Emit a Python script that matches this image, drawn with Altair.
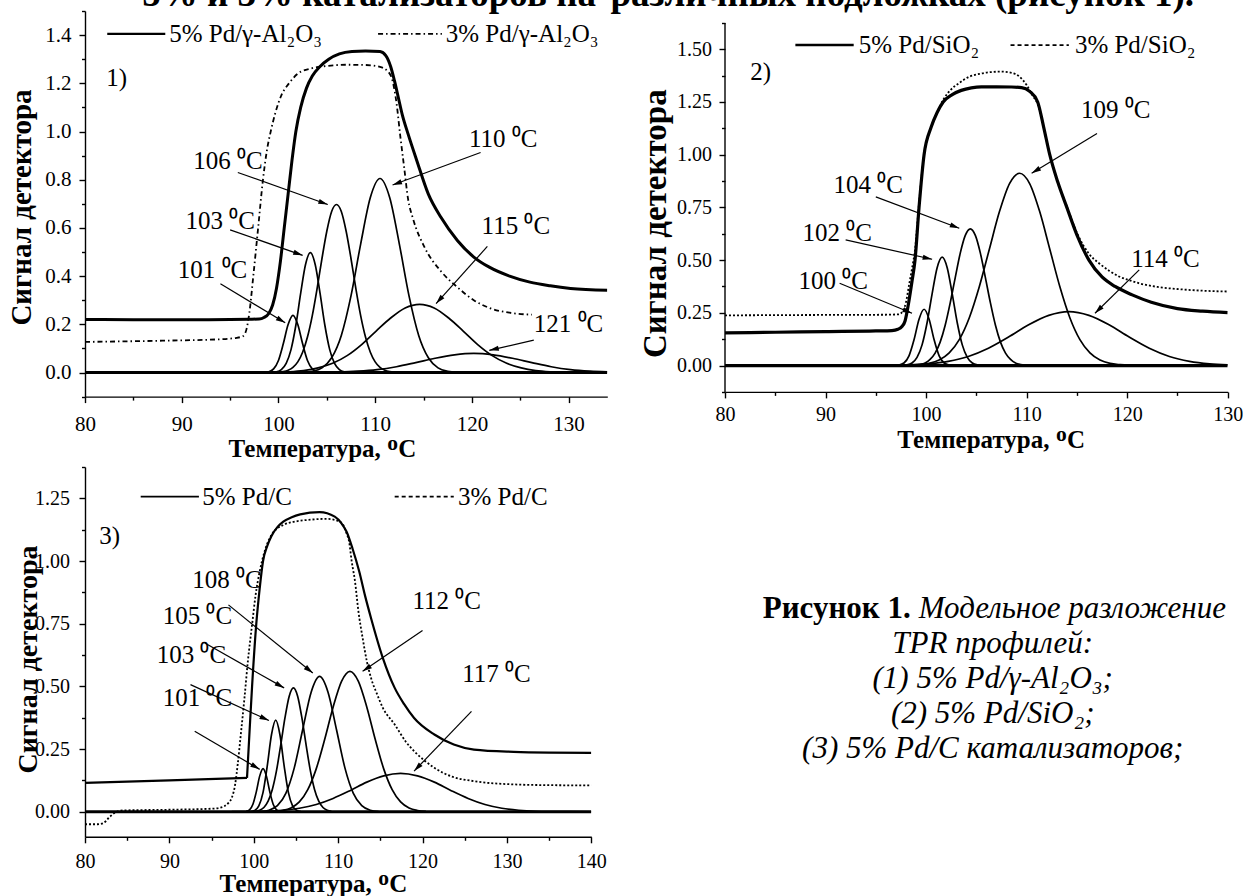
import math
import altair as alt
import pandas as pd

FONT = "Liberation Serif"
XTITLE = "Температура, ᴼC"
YTITLE = "Сигнал детектора"

# ---------------- Panel 1 : Pd / gamma-Al2O3 ----------------
P1_ENV5_T = [80, 85, 90, 95, 97, 98.0, 98.5, 99.0, 99.4, 99.8, 100.2, 100.6, 101.0, 101.4, 101.8, 102.3,
             102.9, 103.5, 104.3, 105.2, 106.3, 107.6, 109.0, 110.5, 111.1, 111.6, 112.0, 112.4, 112.8,
             113.4, 114.3, 115.5, 116.8, 118.5, 120.2, 121.8, 123.9, 126.0, 128.1, 130.2, 134.0]
P1_ENV5_V = [0.220, 0.219, 0.219, 0.220, 0.221, 0.222, 0.228, 0.245, 0.28, 0.35, 0.46, 0.60, 0.74, 0.88, 1.00,
             1.10, 1.18, 1.23, 1.27, 1.30, 1.322, 1.332, 1.334, 1.332, 1.315, 1.27, 1.21, 1.14, 1.07,
             0.99, 0.88, 0.74, 0.644, 0.548, 0.479, 0.437, 0.400, 0.375, 0.360, 0.349, 0.341]
P1_ENV3_T = [80, 88, 94, 95.5, 96.3, 96.7, 97.0, 97.4, 97.9, 98.4, 98.8, 99.2, 99.7, 100.3, 101.1, 102.0,
             103.4, 105.0, 107.0, 109.0, 110.5, 111.3, 111.8, 112.2, 112.6, 113.0, 113.4, 113.9, 115.1,
             116.8, 118.5, 120.2, 121.8, 123.9, 126.2]
P1_ENV3_V = [0.127, 0.132, 0.138, 0.143, 0.150, 0.18, 0.25, 0.40, 0.60, 0.80, 0.92, 1.00, 1.08, 1.15, 1.20, 1.24,
             1.262, 1.272, 1.277, 1.276, 1.268, 1.25, 1.21, 1.12, 0.98, 0.85, 0.72, 0.64, 0.52,
             0.42, 0.354, 0.30, 0.268, 0.248, 0.240]
P1_C101_T = [98.5, 99.0, 99.5, 100.0, 100.5, 101.0, 101.5, 102.0, 102.5, 103.0, 103.5, 104.0, 104.5]
P1_C101_V = [0.0005, 0.003, 0.015, 0.050, 0.119, 0.199, 0.237, 0.199, 0.119, 0.050, 0.015, 0.003, 0.0005]
P1_C103_T = [99.3, 99.8, 100.3, 100.8, 101.3, 101.8, 102.3, 102.8, 103.3, 103.8, 104.3, 104.8, 105.3, 105.8,
             106.3, 106.8, 107.3]
P1_C103_V = [0.001, 0.003, 0.012, 0.038, 0.095, 0.196, 0.329, 0.448, 0.497, 0.448, 0.329, 0.196, 0.095, 0.038,
             0.012, 0.003, 0.001]
P1_C106_T = [100.0, 100.5, 101.0, 101.5, 102.0, 102.5, 103.0, 103.5, 104.0, 104.5, 105.0, 105.5, 106.0, 106.5,
             107.0, 107.5, 108.0, 108.5, 109.0, 109.5, 110.0, 110.5, 111.0, 111.5, 112.0]
P1_C106_V = [0.0014, 0.0037, 0.0092, 0.021, 0.044, 0.084, 0.147, 0.236, 0.349, 0.473, 0.586, 0.668, 0.697, 0.668,
             0.586, 0.473, 0.349, 0.236, 0.147, 0.084, 0.044, 0.021, 0.0092, 0.0037, 0.0014]
P1_C110_T = [102.5, 103.5, 104.5, 105.5, 106.5, 107.5, 108.5, 109.5, 110.5, 111.5, 112.5, 113.5, 114.5, 115.5,
             116.5, 117.5, 118.5]
P1_C110_V = [0.001, 0.005, 0.019, 0.061, 0.154, 0.318, 0.533, 0.726, 0.805, 0.726, 0.533, 0.318, 0.154, 0.061,
             0.019, 0.005, 0.001]
P1_C115_T = [99.6, 101.1, 102.6, 104.1, 105.6, 107.1, 108.6, 110.1, 111.6, 113.1, 114.6, 116.1, 117.6, 119.1,
             120.6, 122.1, 123.6, 125.1, 126.6, 128.1, 129.6]
P1_C115_V = [0.001, 0.003, 0.008, 0.019, 0.038, 0.070, 0.116, 0.172, 0.226, 0.268, 0.283, 0.268, 0.226, 0.172,
             0.116, 0.070, 0.038, 0.019, 0.008, 0.003, 0.001]
P1_C121_T = [104.2, 106.2, 108.2, 110.2, 112.2, 114.2, 116.2, 118.2, 120.2, 122.2, 124.2, 126.2, 128.2, 130.2,
             132.2, 134.0]
P1_C121_V = [0.0007, 0.002, 0.0055, 0.012, 0.024, 0.041, 0.059, 0.073, 0.079, 0.073, 0.059, 0.041, 0.024, 0.012,
             0.0055, 0.0024]
P1_ANN_LABEL = ["110 ⁰C", "106 ⁰C", "103 ⁰C", "101 ⁰C", "115 ⁰C", "121 ⁰C"]
P1_ANN_T = [119.7, 91.2, 90.4, 89.6, 121.0, 126.4]
P1_ANN_V = [0.968, 0.879, 0.627, 0.425, 0.606, 0.200]
P1_ARR_T1 = [120.9, 95.8, 95.0, 94.0, 121.6, 126.4]
P1_ARR_V1 = [0.913, 0.830, 0.592, 0.368, 0.523, 0.134]
P1_ARR_T2 = [111.8, 105.1, 102.5, 100.7, 116.3, 121.8]
P1_ARR_V2 = [0.778, 0.697, 0.486, 0.206, 0.286, 0.092]
P1_LEG_TEXT = ["5% Pd/γ-Al₂O₃", "3% Pd/γ-Al₂O₃"]
P1_LEG_T = [82.3, 88.3, 88.7, 110.3, 116.9, 117.3]
P1_LEG_V = 1.405

# ---------------- Panel 2 : Pd / SiO2 ----------------
P2_ENV5_T = [80, 85, 90, 95, 96.6, 97.2, 97.6, 97.9, 98.2, 98.6, 98.9, 99.3, 99.8, 100.5, 101.1, 101.7, 102.6,
             103.5, 104.5, 105.5, 107.0, 108.5, 109.5, 110.3, 111.1, 111.7, 112.3, 113.1, 114.0, 115.0, 116.2,
             117.5, 118.8, 120.5, 122.4, 125.0, 127.5, 130.0]
P2_ENV5_V = [0.155, 0.158, 0.161, 0.164, 0.166, 0.172, 0.185, 0.21, 0.28, 0.40, 0.50, 0.75, 1.00, 1.13, 1.20,
             1.25, 1.285, 1.305, 1.317, 1.322, 1.322, 1.321, 1.318, 1.30, 1.25, 1.13, 1.00, 0.87, 0.75, 0.62,
             0.50, 0.42, 0.375, 0.335, 0.30, 0.27, 0.258, 0.251]
P2_ENV3_T = [80, 90, 96, 97.3, 97.7, 98.0, 98.3, 98.6, 98.9, 99.3, 99.8, 100.5, 101.1, 101.7, 102.5, 103.3,
             104.3, 105.3, 106.5, 107.5, 108.5, 109.3, 110.0, 110.6, 111.1, 111.7, 112.3, 113.1, 114.0, 115.0,
             116.2, 117.2, 118.2, 119.2, 120.2, 121.2, 123.0, 125.2, 127.5, 130.0]
P2_ENV3_V = [0.238, 0.240, 0.241, 0.243, 0.26, 0.30, 0.38, 0.46, 0.55, 0.77, 1.00, 1.13, 1.20, 1.26, 1.31, 1.34,
             1.37, 1.383, 1.392, 1.394, 1.388, 1.37, 1.33, 1.28, 1.24, 1.13, 1.00, 0.87, 0.755, 0.63,
             0.53, 0.485, 0.45, 0.422, 0.405, 0.39, 0.373, 0.362, 0.355, 0.351]
P2_C100_T = [97.3, 97.8, 98.3, 98.8, 99.3, 99.8, 100.3, 100.8, 101.3, 101.8, 102.3]
P2_C100_V = [0.002, 0.012, 0.046, 0.122, 0.220, 0.267, 0.220, 0.122, 0.046, 0.012, 0.002]
P2_C102_T = [97.6, 98.1, 98.6, 99.1, 99.6, 100.1, 100.6, 101.1, 101.6, 102.1, 102.6, 103.1, 103.6, 104.1, 104.6,
             105.1, 105.6]
P2_C102_V = [0.0007, 0.003, 0.012, 0.039, 0.098, 0.203, 0.340, 0.464, 0.514, 0.464, 0.340, 0.203, 0.098, 0.039,
             0.012, 0.003, 0.0007]
P2_C104_T = [98.4, 98.9, 99.4, 99.9, 100.4, 100.9, 101.4, 101.9, 102.4, 102.9, 103.4, 103.9, 104.4, 104.9, 105.4,
             105.9, 106.4, 106.9, 107.4, 107.9, 108.4, 108.9, 109.4, 109.9, 110.4]
P2_C104_V = [0.0006, 0.0017, 0.005, 0.012, 0.029, 0.059, 0.111, 0.191, 0.297, 0.417, 0.533, 0.617, 0.648, 0.617,
             0.533, 0.417, 0.297, 0.191, 0.111, 0.059, 0.029, 0.012, 0.005, 0.0017, 0.0006]
P2_C109_T = [98.3, 99.3, 100.3, 101.3, 102.3, 103.3, 104.3, 105.3, 106.3, 107.3, 108.3, 109.3, 110.3, 111.3,
             112.3, 113.3, 114.3, 115.3, 116.3, 117.3, 118.3, 119.3, 120.3]
P2_C109_V = [0.001, 0.004, 0.010, 0.026, 0.060, 0.123, 0.227, 0.375, 0.553, 0.730, 0.863, 0.912, 0.863, 0.730,
             0.553, 0.375, 0.227, 0.123, 0.060, 0.026, 0.010, 0.004, 0.001]
P2_C114_T = [98.2, 100.2, 102.2, 104.2, 106.2, 108.2, 110.2, 112.2, 114.2, 116.2, 118.2, 120.2, 122.2, 124.2,
             126.2, 128.2, 130.0]
P2_C114_V = [0.0027, 0.008, 0.020, 0.043, 0.082, 0.135, 0.193, 0.238, 0.256, 0.238, 0.193, 0.135, 0.082, 0.043,
             0.020, 0.008, 0.003]
P2_ANN_LABEL = ["109 ⁰C", "104 ⁰C", "102 ⁰C", "100 ⁰C", "114 ⁰C"]
P2_ANN_T = [115.4, 90.8, 87.7, 87.3, 120.4]
P2_ANN_V = [1.212, 0.857, 0.630, 0.400, 0.504]
P2_ARR_T1 = [117.0, 95.0, 92.0, 91.4, 121.2]
P2_ARR_V1 = [1.100, 0.800, 0.596, 0.390, 0.454]
P2_ARR_T2 = [110.5, 103.3, 100.6, 98.6, 116.8]
P2_ARR_V2 = [0.912, 0.651, 0.504, 0.248, 0.248]
P2_LEG_TEXT = ["5% Pd/SiO₂", "3% Pd/SiO₂"]
P2_LEG_T = [87.0, 92.8, 93.3, 108.4, 114.2, 114.8]
P2_LEG_V = 1.52
P2_YAXIS_SPAN = [-0.125, 1.625]

# ---------------- Panel 3 : Pd / C ----------------
P3_ENV5A_T = [80, 90, 99.2]
P3_ENV5A_V = [0.115, 0.125, 0.135]
P3_ENV5B_T = [99.2, 99.5, 99.8, 100.3, 100.7, 101.1, 101.6, 102.1, 102.8, 103.5, 104.5, 105.5, 107.8, 109.6,
              110.4, 111.0, 111.7, 112.5, 113.2, 113.9, 115.3, 116.7, 117.8, 119.0, 121.4, 123.7, 126.1, 130.8,
              135.0, 140.0]
P3_ENV5B_V = [0.135, 0.32, 0.50, 0.75, 0.89, 1.00, 1.06, 1.10, 1.135, 1.157, 1.175, 1.186, 1.195, 1.177,
              1.15, 1.117, 1.05, 0.958, 0.86, 0.772, 0.613, 0.494, 0.43, 0.374, 0.308, 0.268, 0.248, 0.239,
              0.236, 0.235]
P3_ENV3_T = [80, 81.5, 82.2, 82.8, 83.5, 84.5, 90, 95, 96, 97, 97.4, 97.8, 98.1, 98.5, 98.9, 99.3, 99.8, 100.2,
             100.7, 101.3, 102.1, 103.5, 105.0, 106.4, 108.7, 110.0, 110.6, 111.0, 111.3, 111.6, 112.0, 112.4,
             112.9, 113.4, 113.9, 114.6, 115.3, 116.7, 118.0, 119.0, 120.2, 121.4, 123.5, 126.1, 130.8, 135.0, 140.0]
P3_ENV3_V = [-0.05, -0.05, -0.045, -0.025, -0.005, 0.005, 0.008, 0.012, 0.016, 0.035, 0.056, 0.11, 0.19, 0.32,
             0.454, 0.60, 0.746, 0.86, 0.958, 1.04, 1.104, 1.144, 1.158, 1.164, 1.168, 1.16, 1.144, 1.11, 1.077,
             1.0, 0.918, 0.80, 0.693, 0.60, 0.533, 0.47, 0.414, 0.348, 0.28, 0.242, 0.205, 0.175, 0.14, 0.122,
             0.109, 0.106, 0.105]
P3_C101_T = [99.1, 99.5, 99.9, 100.3, 100.7, 101.1, 101.5, 101.9, 102.3, 102.7, 103.1]
P3_C101_V = [0.0013, 0.0076, 0.030, 0.079, 0.142, 0.172, 0.142, 0.079, 0.030, 0.0076, 0.0013]
P3_C103_T = [99.6, 100.1, 100.6, 101.1, 101.6, 102.1, 102.6, 103.1, 103.6, 104.1, 104.6, 105.1, 105.6]
P3_C103_V = [0.0007, 0.005, 0.023, 0.077, 0.183, 0.307, 0.365, 0.307, 0.183, 0.077, 0.023, 0.005, 0.0007]
P3_C105_T = [100.2, 100.7, 101.2, 101.7, 102.2, 102.7, 103.2, 103.7, 104.2, 104.7, 105.2, 105.7, 106.2, 106.7,
             107.2, 107.7, 108.2, 108.7, 109.2]
P3_C105_V = [0.002, 0.006, 0.017, 0.042, 0.089, 0.165, 0.267, 0.375, 0.461, 0.494, 0.461, 0.375, 0.267, 0.165,
             0.089, 0.042, 0.017, 0.006, 0.002]
P3_C108_T = [100.8, 101.8, 102.8, 103.8, 104.8, 105.8, 106.8, 107.8, 108.8, 109.8, 110.8, 111.8, 112.8, 113.8,
             114.8]
P3_C108_V = [0.001, 0.006, 0.024, 0.073, 0.175, 0.328, 0.477, 0.540, 0.477, 0.328, 0.175, 0.073, 0.024, 0.006,
             0.001]
P3_C112_T = [102.4, 103.4, 104.4, 105.4, 106.4, 107.4, 108.4, 109.4, 110.4, 111.4, 112.4, 113.4, 114.4, 115.4,
             116.4, 117.4, 118.4, 119.4, 120.4]
P3_C112_V = [0.0014, 0.005, 0.015, 0.039, 0.088, 0.171, 0.288, 0.417, 0.520, 0.560, 0.520, 0.417, 0.288, 0.171,
             0.088, 0.039, 0.015, 0.005, 0.0014]
P3_C117_T = [97.4, 99.4, 101.4, 103.4, 105.4, 107.4, 109.4, 111.4, 113.4, 115.4, 117.4, 119.4, 121.4, 123.4,
             125.4, 127.4, 129.4, 131.4, 133.4, 135.4, 137.4, 140.0]
P3_C117_V = [0.0002, 0.0007, 0.002, 0.006, 0.014, 0.029, 0.053, 0.084, 0.118, 0.143, 0.153, 0.143, 0.118, 0.084,
             0.053, 0.029, 0.014, 0.006, 0.002, 0.0007, 0.0002, 0.0]
P3_ANN_LABEL = ["112 ⁰C", "108 ⁰C", "105 ⁰C", "103 ⁰C", "101 ⁰C", "117 ⁰C"]
P3_ANN_T = [118.8, 92.7, 89.2, 88.5, 89.2, 124.7]
P3_ANN_V = [0.839, 0.925, 0.779, 0.627, 0.455, 0.551]
P3_ARR_T1 = [120.0, 97.0, 94.2, 92.5, 93.0, 125.8]
P3_ARR_V1 = [0.723, 0.825, 0.673, 0.507, 0.321, 0.400]
P3_ARR_T2 = [112.9, 107.0, 103.6, 101.8, 100.7, 119.0]
P3_ARR_V2 = [0.560, 0.553, 0.494, 0.364, 0.169, 0.162]
P3_LEG_TEXT = ["5% Pd/C", "3% Pd/C"]
P3_LEG_T = [86.6, 93.5, 93.9, 116.7, 123.7, 124.2]
P3_LEG_V = 1.257

# ---------------- Caption and the cut-off heading line ----------------
CAP_BOLD = "Рисунок 1."
CAP_FIRST = "Модельное разложение"
CAP_LINES = ["TPR профилей:", "(1) 5% Pd/γ-Al₂O₃;", "(2) 5% Pd/SiO₂;", "(3) 5% Pd/C катализаторов;"]
HEAD_LEFT = "5% и 3% катализаторов на"
HEAD_RIGHT = "различных подложках (рисунок 1)."

ARROW_SHAPE = "M0,0L0.55,2L-0.55,2Z"

HEAD_FS = 37
HEAD_BASE = 6.0      # baseline of the cut-off heading, page pixels
TOP = 10.8           # common plot top of the first row
ASC = round(0.8 * HEAD_FS)


def vals(a, b, step):
    n = int(round((b - a) / step))
    return [round(a + i * step, 4) for i in range(n + 1)]


def curves_df(pairs):
    rows = []
    for name, (ts, vs) in pairs.items():
        for t, v in zip(ts, vs):
            rows.append({"comp": name, "T": t, "V": v})
    return pd.DataFrame(rows)


def spacer_layer(sp):
    return alt.Chart(pd.DataFrame({"d": [0]})).mark_rule(strokeOpacity=0, strokeWidth=0.5).encode(
        x=alt.value(sp[0]), x2=alt.value(sp[1]), y=alt.value(sp[2]), y2=alt.value(sp[3]))


def head_layer(txt, x, y, align, limit):
    return alt.Chart(pd.DataFrame({"txt": [txt]})).mark_text(
        align=align, baseline="alphabetic", font=FONT, fontSize=HEAD_FS, fontWeight="bold", color="black",
        limit=limit).encode(x=alt.value(x), y=alt.value(y), text="txt:N")


def build_panel(c):
    W, H = c["W"], c["H"]
    x0, x1 = c["xdom"]
    y0, y1 = c["ydom"]
    kx, ky = W / (x1 - x0), H / (y1 - y0)
    xs = alt.Scale(domain=[x0, x1], nice=False, zero=False)
    ys = alt.Scale(domain=[y0, y1], nice=False, zero=False)
    xtest = "datum.value % 10 == 0"
    xax = alt.Axis(values=c["xticks"], labelExpr=f"{xtest} ? format(datum.value, 'd') : ''",
                   tickSize={"condition": {"test": xtest, "value": 6}, "value": 3.5},
                   labelFontSize={"condition": {"test": xtest, "value": c["tick_fs"]}, "value": 0},
                   labelPadding=c["xlabpad"], labelOverlap=False, labelFlush=False,
                   title=XTITLE, titleFontSize=c["xt_fs"], titleX=c["xtX"], titleY=c["xtY"],
                   titleAlign="center", titleBaseline="middle")
    ytest = c["ytest"]
    yax = alt.Axis(values=c["yticks"], labelExpr=f"{ytest} ? format(datum.value, '{c['yfmt']}') : ''",
                   tickSize={"condition": {"test": ytest, "value": 6}, "value": 3.5},
                   labelFontSize={"condition": {"test": ytest, "value": c["tick_fs"]}, "value": 0},
                   labelPadding=c["ylabpad"], labelOverlap=False, labelFlush=False,
                   domain=c.get("ydomain_line", True),
                   title=YTITLE, titleFontSize=c["yt_fs"], titleX=c["ytX"], titleY=c["ytY"],
                   titleAlign="center", titleBaseline="middle", titleAngle=270)

    def X(f):
        return alt.X(f, type="quantitative", scale=xs, axis=xax)

    def Y(f):
        return alt.Y(f, type="quantitative", scale=ys, axis=yax)

    layers = [spacer_layer(c["spacer"])] + c.get("extra", [])
    if "yspan" in c:
        layers.append(alt.Chart(pd.DataFrame({"xa": [x0], "ya": [c["yspan"][0]], "yb": [c["yspan"][1]]})).mark_rule(
            color="black", strokeWidth=1.4).encode(x=X("xa"), y=Y("ya"), y2="yb:Q"))
    base = pd.DataFrame({"T": [x0, x1], "V": [0.0, 0.0]})
    layers.append(alt.Chart(base).mark_line(color="black", strokeWidth=3.2, clip=True).encode(x=X("T"), y=Y("V")))
    layers.append(alt.Chart(curves_df(c["comps"])).mark_line(
        color="black", strokeWidth=1.7, interpolate="monotone", clip=True).encode(
        x=X("T"), y=Y("V"), detail="comp:N", order="T:Q"))
    for (ts, vs, interp) in c["env5"]:
        layers.append(alt.Chart(pd.DataFrame({"T": ts, "V": vs})).mark_line(
            color="black", strokeWidth=c["env5_w"], interpolate=interp, clip=True).encode(x=X("T"), y=Y("V")))
    ts, vs = c["env3"]
    layers.append(alt.Chart(pd.DataFrame({"T": ts, "V": vs})).mark_line(
        color="black", strokeWidth=c["env3_w"], strokeDash=c["dash"], interpolate="monotone", clip=True).encode(
        x=X("T"), y=Y("V")))
    t1, v1, t2, v2 = c["arrows"]
    angs = [math.degrees(math.atan2((b - a) * kx, (d - cc) * ky)) % 360 for a, cc, b, d in zip(t1, v1, t2, v2)]
    adf = pd.DataFrame({"xa": t1, "ya": v1, "xb": t2, "yb": v2, "ang": angs})
    layers.append(alt.Chart(adf).mark_rule(color="black", strokeWidth=1.2).encode(
        x=X("xa"), y=Y("ya"), x2="xb:Q", y2="yb:Q"))
    layers.append(alt.Chart(adf).mark_point(shape=ARROW_SHAPE, filled=True, size=90, color="black",
                                            opacity=1, strokeWidth=0).encode(
        x=X("xb"), y=Y("yb"), angle=alt.Angle("ang:Q", scale=None)))
    lab, lt, lv = c["ann"]
    layers.append(alt.Chart(pd.DataFrame({"T": lt, "V": lv, "label": lab})).mark_text(
        align="left", baseline="middle", font=FONT, fontSize=c["ann_fs"], color="black").encode(
        x=X("T"), y=Y("V"), text="label:N"))
    pl = c["plabel"]
    layers.append(alt.Chart(pd.DataFrame({"T": [pl[1]], "V": [pl[2]], "label": [pl[0]]})).mark_text(
        align="left", baseline="middle", font=FONT, fontSize=c["ann_fs"], color="black").encode(
        x=X("T"), y=Y("V"), text="label:N"))
    lg_text, lg_t, lg_v = c["legend"]
    layers.append(alt.Chart(pd.DataFrame({"xa": [lg_t[0]], "xb": [lg_t[1]], "ya": [lg_v]})).mark_rule(
        color="black", strokeWidth=c["env5_w"] * 0.8).encode(x=X("xa"), x2="xb:Q", y=Y("ya")))
    layers.append(alt.Chart(pd.DataFrame({"xa": [lg_t[3]], "xb": [lg_t[4]], "ya": [lg_v]})).mark_rule(
        color="black", strokeWidth=c["env3_w"], strokeDash=c["legdash"]).encode(x=X("xa"), x2="xb:Q", y=Y("ya")))
    layers.append(alt.Chart(pd.DataFrame({"T": [lg_t[2], lg_t[5]], "V": [lg_v, lg_v], "label": lg_text})).mark_text(
        align="left", baseline="middle", font=FONT, fontSize=c["leg_fs"], color="black").encode(
        x=X("T"), y=Y("V"), text="label:N"))
    return alt.layer(*layers).properties(width=W, height=H)


# layout (page pixels)
C1 = 85.0                      # shared left edge of panels 1 and 3
P1_RIGHT, P3_RIGHT = 607.3, 591.3
P2_LEFT, P2_RIGHT = 724.3, 1227.0
P2_BOTTOM = 391.7
W1, H1 = P1_RIGHT - C1, 385.6
W3, H3 = P3_RIGHT - C1, 369.8
W2, H2 = P2_RIGHT - P2_LEFT, P2_BOTTOM - TOP
P2_KY = 369.0 / 1.75           # pixels per unit of panel 2's y axis
P2_YTOP = 1.625 + (22.7 - TOP) / P2_KY
L2 = P2_LEFT - (C1 + W1 + 2)   # left room of panel 2's column

p1 = build_panel(dict(
    W=W1, H=H1, xdom=[80, 134], ydom=[-0.1, 1.5], xticks=vals(80, 130, 5), yticks=vals(-0.1, 1.5, 0.1),
    ytest="abs(round(datum.value*10)) % 2 == 0", yfmt=".1f", tick_fs=21, xlabpad=11, ylabpad=8,
    xt_fs=25, xtX=322 - C1, xtY=52, yt_fs=29, ytX=21 - C1, ytY=196,
    comps={"c101": (P1_C101_T, P1_C101_V), "c103": (P1_C103_T, P1_C103_V), "c106": (P1_C106_T, P1_C106_V),
           "c110": (P1_C110_T, P1_C110_V), "c115": (P1_C115_T, P1_C115_V), "c121": (P1_C121_T, P1_C121_V)},
    env5=[(P1_ENV5_T, P1_ENV5_V, "monotone")], env5_w=3.0, env3=(P1_ENV3_T, P1_ENV3_V), env3_w=1.8,
    dash=[5, 3, 1.5, 3], legdash=[5, 3, 1.5, 3],
    arrows=(P1_ARR_T1, P1_ARR_V1, P1_ARR_T2, P1_ARR_V2), ann=(P1_ANN_LABEL, P1_ANN_T, P1_ANN_V), ann_fs=25,
    plabel=("1)", 82.2, 1.22), legend=(P1_LEG_TEXT, P1_LEG_T, P1_LEG_V), leg_fs=25,
    spacer=(-C1, W1 + 2, 0, H1 + 68.8),
    extra=[head_layer(HEAD_LEFT, 596 - C1, HEAD_BASE - TOP, "right", 590)]))

p2 = build_panel(dict(
    W=W2, H=H2, xdom=[80, 130], ydom=[-0.125, P2_YTOP], xticks=vals(80, 130, 5), yticks=vals(-0.125, 1.625, 0.125),
    ytest="abs(datum.value*4 - round(datum.value*4)) < 0.001", yfmt=".2f", tick_fs=20, xlabpad=7, ylabpad=7.6,
    xt_fs=25, xtX=990 - P2_LEFT, xtY=47.5, yt_fs=33, ytX=-70, ytY=223 - TOP, ydomain_line=False,
    yspan=P2_YAXIS_SPAN,
    comps={"c100": (P2_C100_T, P2_C100_V), "c102": (P2_C102_T, P2_C102_V), "c104": (P2_C104_T, P2_C104_V),
           "c109": (P2_C109_T, P2_C109_V), "c114": (P2_C114_T, P2_C114_V)},
    env5=[(P2_ENV5_T, P2_ENV5_V, "monotone")], env5_w=3.2, env3=(P2_ENV3_T, P2_ENV3_V), env3_w=1.8,
    dash=[2, 2], legdash=[4, 3],
    arrows=(P2_ARR_T1, P2_ARR_V1, P2_ARR_T2, P2_ARR_V2), ann=(P2_ANN_LABEL, P2_ANN_T, P2_ANN_V), ann_fs=25,
    plabel=("2)", 82.5, 1.39), legend=(P2_LEG_TEXT, P2_LEG_T, P2_LEG_V), leg_fs=25,
    spacer=(-L2, W2, 0, 0),
    extra=[head_layer(HEAD_RIGHT, -L2 + 0.5, HEAD_BASE - TOP, "left", 600)]))

p3 = build_panel(dict(
    W=W3, H=H3, xdom=[80, 140], ydom=[-0.1, 1.375], xticks=vals(80, 140, 5), yticks=vals(0, 1.375, 0.125),
    ytest="abs(datum.value*4 - round(datum.value*4)) < 0.001", yfmt=".2f", tick_fs=20, xlabpad=8.5, ylabpad=9.6,
    xt_fs=25, xtX=313 - C1, xtY=47, yt_fs=28, ytX=28 - C1, ytY=192,
    comps={"c101": (P3_C101_T, P3_C101_V), "c103": (P3_C103_T, P3_C103_V), "c105": (P3_C105_T, P3_C105_V),
           "c108": (P3_C108_T, P3_C108_V), "c112": (P3_C112_T, P3_C112_V), "c117": (P3_C117_T, P3_C117_V)},
    env5=[(P3_ENV5A_T, P3_ENV5A_V, "linear"), (P3_ENV5B_T, P3_ENV5B_V, "monotone")], env5_w=2.2,
    env3=(P3_ENV3_T, P3_ENV3_V), env3_w=1.8, dash=[2, 2], legdash=[4, 3],
    arrows=(P3_ARR_T1, P3_ARR_V1, P3_ARR_T2, P3_ARR_V2), ann=(P3_ANN_LABEL, P3_ANN_T, P3_ANN_V), ann_fs=25,
    plabel=("3)", 81.7, 1.098), legend=(P3_LEG_TEXT, P3_LEG_T, P3_LEG_V), leg_fs=25,
    spacer=(-C1, W3 + 2, 0, 0)))

# caption cell (shares the column of panel 2)
WC, HC = 505, 370
CX = 992 - P2_LEFT
SPLIT = CX - 82
CAP_FS = 31
cap_y = alt.Scale(domain=[0, 4], range=[142, 142 + 4 * 35])
cap_bold = alt.Chart(pd.DataFrame({"line": [0], "txt": [CAP_BOLD]})).mark_text(
    align="right", baseline="middle", font=FONT, fontSize=CAP_FS, fontWeight="bold", color="black").encode(
    x=alt.value(SPLIT), y=alt.Y("line:Q", scale=cap_y, axis=None), text="txt:N")
cap_first = alt.Chart(pd.DataFrame({"line": [0], "txt": [CAP_FIRST]})).mark_text(
    align="left", baseline="middle", font=FONT, fontSize=CAP_FS, fontStyle="italic", color="black").encode(
    x=alt.value(SPLIT + 8), y=alt.Y("line:Q", scale=cap_y, axis=None), text="txt:N")
cap_rest = alt.Chart(pd.DataFrame({"line": [1, 2, 3, 4], "txt": CAP_LINES})).mark_text(
    align="center", baseline="middle", font=FONT, fontSize=CAP_FS, fontStyle="italic", color="black").encode(
    x=alt.value(CX), y=alt.Y("line:Q", scale=cap_y, axis=None), text="txt:N")
cap = alt.layer(spacer_layer((0, WC, 0, 0)), cap_bold, cap_first, cap_rest).properties(width=WC, height=HC)

grid = alt.concat(p1, p2, p3, cap, columns=2, spacing={"row": 0, "column": 0})

PAD_TOP = -((TOP - HEAD_BASE) + ASC - TOP)   # only the lower part of the heading stays on the page
chart = grid.properties(
    padding={"top": PAD_TOP, "bottom": 0, "left": 0, "right": 0}, background="white"
).configure_view(stroke=None).configure_axis(
    domainColor="black", domainWidth=1.4, tickColor="black", tickWidth=1.4, labelColor="black",
    titleColor="black", labelFont=FONT, titleFont=FONT, titleFontWeight="bold", grid=False)

chart.save("out.html", embed_options={"renderer": "svg", "actions": False})
